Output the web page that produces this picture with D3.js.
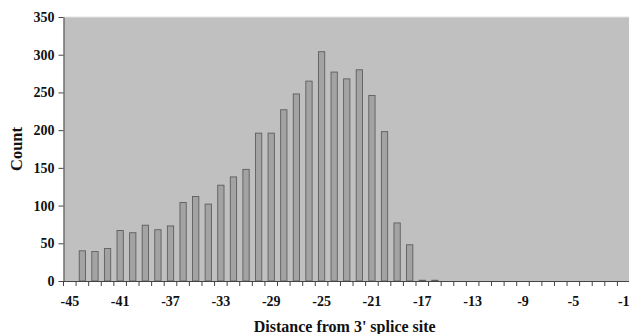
<!DOCTYPE html>
<html>
<head>
<meta charset="utf-8">
<script src="https://cdn.jsdelivr.net/npm/d3@7"></script>
<style>
  body { margin: 0; background: #fff; }
  text { font-family: "Liberation Serif", "Times New Roman", serif; font-weight: bold; }
</style>
</head>
<body>
<div id="wrapper"></div>
<script>
// 1. Data

const distances = d3.range(-45, 0)
const counts = [
  0, 40, 39, 43, 67, 64, 74, 68, 73, 104,
  112, 102, 127, 138, 148, 196, 196, 227, 248, 265,
  304, 277, 268, 280, 246, 198, 77, 48, 1, 1,
  0, 0, 0, 0, 0, 0, 0, 0, 0, 0,
  0, 0, 0, 0, 0
]
const yTicks = [0, 50, 100, 150, 200, 250, 300, 350]
const xLabels = [-45, -41, -37, -33, -29, -25, -21, -17, -13, -9, -5, -1]
const dataset = distances.map((d, i) => ({ distance: d, count: counts[i] }))

// 2. Dimensions

let dimensions = {
  width: 629,
  height: 334,
  margin: { top: 17, right: -1, bottom: 53, left: 63.5 },
}
dimensions.boundedWidth = dimensions.width - dimensions.margin.left - dimensions.margin.right
dimensions.boundedHeight = dimensions.height - dimensions.margin.top - dimensions.margin.bottom

// 3. Canvas

const wrapper = d3.select("#wrapper")
  .append("svg")
  .attr("width", dimensions.width)
  .attr("height", dimensions.height)

const bounds = wrapper.append("g")
  .attr("transform", `translate(${dimensions.margin.left}, ${dimensions.margin.top})`)

// 4. Scales

const xScale = d3.scaleBand()
  .domain(distances)
  .range([0, dimensions.boundedWidth])
  .padding(0)

const yScale = d3.scaleLinear()
  .domain([0, 350])
  .range([dimensions.boundedHeight, 0])

// plot area
bounds.append("rect")
  .attr("width", dimensions.boundedWidth)
  .attr("height", dimensions.boundedHeight)
  .attr("fill", "#c0c0c0")

bounds.append("line")
  .attr("x1", 0).attr("x2", dimensions.boundedWidth)
  .attr("y1", 0).attr("y2", 0)
  .attr("stroke", "#e2e2e2")
  .attr("stroke-width", 1)

// 5. Bars

const barWidth = xScale.bandwidth() * 0.5
bounds.selectAll(".bar")
  .data(dataset.filter(d => d.count > 0))
  .enter().append("rect")
  .attr("class", "bar")
  .attr("x", d => xScale(d.distance) + (xScale.bandwidth() - barWidth) / 2)
  .attr("y", d => yScale(d.count))
  .attr("width", barWidth)
  .attr("height", d => dimensions.boundedHeight - yScale(d.count))
  .attr("fill", "#a3a3a3")
  .attr("stroke", "#5e5e5e")
  .attr("stroke-width", 0.9)

// 6. Axes

const yAxisGen = d3.axisLeft(yScale).tickValues(yTicks).tickSize(5).tickSizeOuter(0)
const yAxis = bounds.append("g").call(yAxisGen)
yAxis.select(".domain").attr("stroke", "#444")
yAxis.selectAll(".tick line").attr("stroke", "#444")
yAxis.selectAll("text")
  .attr("x", -9)
  .style("font-size", "14px")
  .style("font-family", "'Liberation Serif', serif")
  .style("font-weight", "bold")
  .attr("fill", "#111")

const xAxisGen = d3.axisBottom(xScale)
  .tickValues(xLabels)
  .tickSize(0)
  .tickSizeOuter(0)
  .tickPadding(15)
const xAxis = bounds.append("g")
  .attr("transform", `translate(0, ${dimensions.boundedHeight})`)
  .call(xAxisGen)
xAxis.select(".domain").attr("stroke", "#444")
xAxis.selectAll("text")
  .style("font-size", "14px")
  .style("font-family", "'Liberation Serif', serif")
  .style("font-weight", "bold")
  .attr("fill", "#111")

// tick marks between categories
xAxis.selectAll(".bound-tick")
  .data(distances)
  .enter().append("line")
  .attr("class", "bound-tick")
  .attr("x1", d => xScale(d))
  .attr("x2", d => xScale(d))
  .attr("y1", 0)
  .attr("y2", 5)
  .attr("stroke", "#444")

// 7. Labels

wrapper.append("text")
  .attr("x", dimensions.margin.left + dimensions.boundedWidth / 2 - 2)
  .attr("y", 332)
  .attr("text-anchor", "middle")
  .style("font-size", "16px")
  .attr("fill", "#111")
  .text("Distance from 3' splice site")

wrapper.append("text")
  .attr("transform", `translate(22, ${dimensions.margin.top + dimensions.boundedHeight / 2}) rotate(-90)`)
  .attr("text-anchor", "middle")
  .style("font-size", "16.5px")
  .attr("fill", "#111")
  .text("Count")
</script>
</body>
</html>
